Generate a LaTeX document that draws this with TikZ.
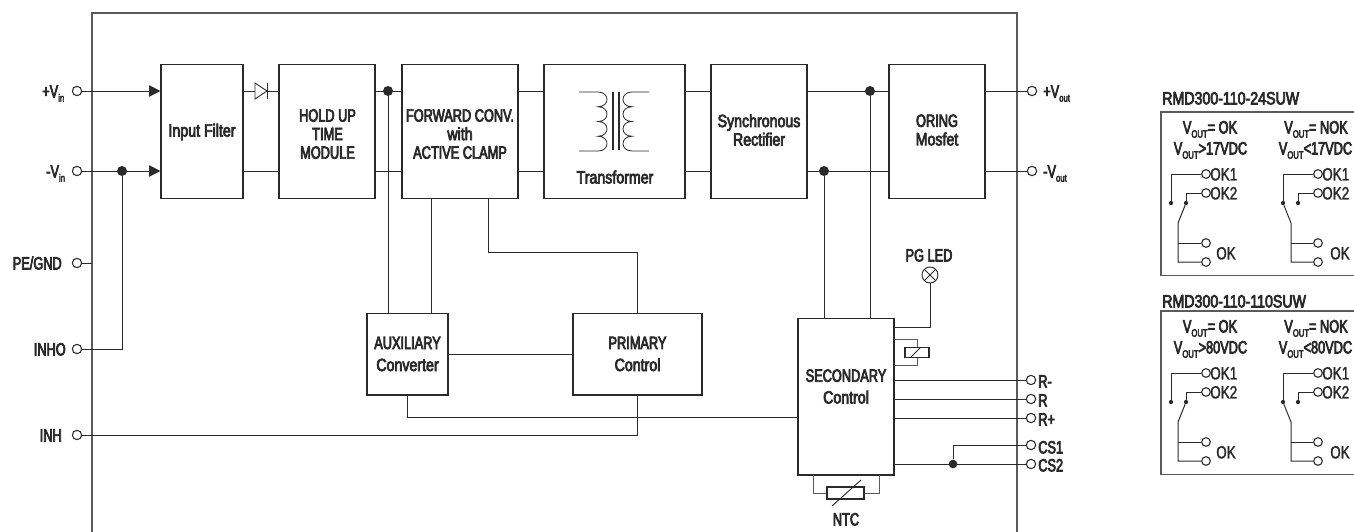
\documentclass[tikz,border=0pt]{standalone}
\usepackage{fontspec}
\setmainfont[FakeStretch=0.72,FakeBold=4]{Liberation Sans}
\newfontfamily\lc[FakeStretch=0.80,FakeBold=4]{Liberation Sans}
\newfontfamily\lightf[FakeStretch=0.76,FakeBold=1.5]{Liberation Sans}
\usetikzlibrary{arrows.meta,calc}
\definecolor{ink}{HTML}{2A2A2A}
\definecolor{frame}{HTML}{5A5A5A}
\newcommand{\lowsub}[1]{\raisebox{-3.2pt}{\fontsize{8}{8}\selectfont #1}}
\tikzset{
  wire/.style={draw=ink,line width=0.75pt},
  blockbox/.style={draw=ink,line width=0.85pt,fill=white,inner sep=0pt},
  thickbox/.style={blockbox,line width=1.15pt},
  lbl/.style={text=ink,align=center,inner sep=0pt,font=\fontsize{13.3}{13.9}\selectfont},
  tlbl/.style={lbl,text height=9.6pt,text depth=0pt},
  thinlbl/.style={tlbl,font=\lightf\fontsize{13.3}{13.9}\selectfont},
  term/.style={circle,draw=ink,line width=0.8pt,fill=white,minimum size=7pt,inner sep=0pt},
  jdot/.style={circle,fill=ink,minimum size=7.5pt,inner sep=0pt},
  sdot/.style={circle,fill=ink,minimum size=3.2pt,inner sep=0pt},
  entry/.style={wire,-{Triangle[length=8.5pt,width=8.5pt]}}
}
\newcommand{\blk}[6][blockbox]{\node[#1,minimum width={(#5-#3)*0.75pt},minimum height={(#6-#4)*0.75pt}] (#2) at ({(#3+#5)/2},{(#4+#6)/2}) {};}
\newcommand{\relaypanel}[5]{%
  \node[tlbl,anchor=west] (#1title) at (1162,#3) {\lc #4};
  \begin{scope}[shift={(0,#2)}]
    \coordinate (#1ca) at (1354,112); \coordinate (#1cb) at (1161,112);
    \coordinate (#1cc) at (1161,275.5); \coordinate (#1cd) at (1354,275.5);
    \draw[frame,line width=0.9pt] (#1ca) -- (#1cb) -- (#1cc) -- (#1cd);
    \node[tlbl] (#1h1) at (1210,127) {V\lowsub{OUT}= OK};
    \node[tlbl] (#1h2) at (1210.5,148) {V\lowsub{OUT}>#5VDC};
    \node[tlbl] (#1h3) at (1316,127) {V\lowsub{OUT}= NOK};
    \node[tlbl] (#1h4) at (1315.5,148) {V\lowsub{OUT}<#5VDC};
    % left contact group
    \node[term,minimum size=6.5pt] (#1a1) at (1206,174) {};
    \node[term,minimum size=6.5pt] (#1a2) at (1206,193) {};
    \node[term,minimum size=6.5pt] (#1a3) at (1206,243) {};
    \node[term,minimum size=6.5pt] (#1a4) at (1206,262) {};
    \node[sdot] (#1ad1) at (1171,203) {};
    \node[sdot] (#1ad2) at (1186,203) {};
    \coordinate (#1ah) at (1178,223);
    \node[thinlbl,anchor=west] (#1at1) at (1210,174) {OK1};
    \node[thinlbl,anchor=west] (#1at2) at (1210,193) {OK2};
    \node[thinlbl,anchor=west] (#1at3) at (1216,253) {OK};
    \draw[wire] (#1a1) -| (#1ad1);
    \draw[wire] (#1a2) -| (#1ad2);
    \draw[wire] (#1ad2) -- (#1ah) |- (#1a4);
    \draw[wire] (#1ah |- #1a3) -- (#1a3);
    % right contact group
    \node[term,minimum size=6.5pt] (#1b1) at (1318,174) {};
    \node[term,minimum size=6.5pt] (#1b2) at (1318,193) {};
    \node[term,minimum size=6.5pt] (#1b3) at (1318,243) {};
    \node[term,minimum size=6.5pt] (#1b4) at (1318,262) {};
    \node[sdot] (#1bd1) at (1283,203) {};
    \node[sdot] (#1bd2) at (1298,203) {};
    \coordinate (#1bh) at (1291,223);
    \node[thinlbl,anchor=west] (#1bt1) at (1322,174) {OK1};
    \node[thinlbl,anchor=west] (#1bt2) at (1322,193) {OK2};
    \node[thinlbl,anchor=west] (#1bt3) at (1330,253) {OK};
    \draw[wire] (#1b1) -| (#1bd1);
    \draw[wire] (#1b2) -| (#1bd2);
    \draw[wire] (#1bd1) -- (#1bh) |- (#1b4);
    \draw[wire] (#1bh |- #1b3) -- (#1b3);
  \end{scope}}
\begin{document}
\begin{tikzpicture}[x=0.75pt,y=-0.75pt]
\useasboundingbox (0,0) rectangle (1354,532);
% outer frame
\coordinate (fa) at (92,532); \coordinate (fb) at (92,13);
\coordinate (fc) at (1017,13); \coordinate (fd) at (1017,532);
\draw[frame,line width=1.1pt] (fa) -- (fb) -- (fc) -- (fd);
\coordinate (topy) at (0,91); \coordinate (boty) at (0,171);
% blocks
\blk{ifilt}{161}{64.5}{243}{198.5}
\blk{hold}{279}{64.5}{375}{198.5}
\blk{fwd}{402}{64.5}{518}{198.5}
\blk{xfm}{544}{64.5}{685}{198.5}
\blk{sync}{711}{64.5}{807}{198.5}
\blk{oring}{889}{64.5}{985}{198.5}
\blk{aux}{367}{313.5}{448}{395}
\blk[thickbox]{prim}{573}{313.5}{702}{395}
\blk[thickbox]{sec}{798}{318.5}{894}{475}
\node[lbl] (tifilt) at (202,132) {\lc Input Filter};
\node[lbl] (thold) at (327.5,134) {HOLD UP\\TIME\\MODULE};
\node[lbl] (tfwd) at (460,134) {FORWARD CONV.\\{\lc with}\\ACTIVE CLAMP};
\node[tlbl] (txfm) at (615,177) {\lc Transformer};
\node[lbl] (tsync) at (759,130) {\lc Synchronous\\\lc Rectifier};
\node[lbl] (toring) at (937,130) {ORING\\\lc Mosfet};
\node[lbl] (taux) at (407.5,354) {AUXILIARY\\[2.6pt]\lc Converter};
\node[lbl] (tprim) at (637.5,354) {PRIMARY\\[2.6pt]\lc Control};
\node[lbl] (tsec) at (846,386.5) {SECONDARY\\[2.4pt]\lc Control};
% input terminals
\node[term] (vip) at (77,91) {};
\node[term] (vin) at (77,171) {};
\node[term] (pe) at (77,263) {};
\node[term] (inho) at (77,349) {};
\node[term] (inh) at (77,435) {};
\node[tlbl,anchor=west] (tvip) at (42,91) {+V\lowsub{in}};
\node[tlbl,anchor=west] (tvin) at (46,171) {-V\lowsub{in}};
\node[tlbl,anchor=east] (tpe) at (62,263) {PE/GND};
\node[tlbl,anchor=east] (tinho) at (66,349) {INHO};
\node[tlbl,anchor=east] (tinh) at (62,435) {INH};
\node[jdot] (dvin) at (122,171) {};
\draw[entry] (vip) -- (vip -| ifilt.west);
\draw[entry] (vin) -- (vin -| ifilt.west);
\coordinate (pestub) at (92,263);
\draw[wire] (pe) -- (pestub);
\draw[wire] (inho) -| (dvin);
% diode
\coordinate (da) at (255,83); \coordinate (db) at (255,99); \coordinate (dc) at (267,91);
\coordinate (dd) at (267.5,83); \coordinate (de) at (267.5,99);
\draw[wire] (ifilt.east |- topy) -- (hold.west |- topy);
\draw[draw=ink,line width=0.7pt,fill=white] (da) -- (dc) -- (db) -- cycle;
\draw[wire] (dd) -- (de);
\draw[wire] (ifilt.east |- boty) -- (hold.west |- boty);
% main rails
\node[jdot] (dfwd) at (388,91) {};
\draw[wire] (hold.east |- topy) -- (fwd.west |- topy);
\draw[wire] (hold.east |- boty) -- (fwd.west |- boty);
\draw[wire] (fwd.east |- topy) -- (xfm.west |- topy);
\draw[wire] (fwd.east |- boty) -- (xfm.west |- boty);
\draw[wire] (xfm.east |- topy) -- (sync.west |- topy);
\draw[wire] (xfm.east |- boty) -- (sync.west |- boty);
\node[jdot] (dtop) at (870,91) {};
\node[jdot] (dbot) at (824,171) {};
\draw[wire] (sync.east |- topy) -- (oring.west |- topy);
\draw[wire] (sync.east |- boty) -- (oring.west |- boty);
\node[term] (vop) at (1032,91) {};
\node[term] (von) at (1032,171) {};
\draw[wire] (oring.east |- topy) -- (vop);
\draw[wire] (oring.east |- boty) -- (von);
\node[tlbl,anchor=west] (tvop) at (1043,91) {+V\lowsub{out}};
\node[tlbl,anchor=west] (tvon) at (1043,171) {-V\lowsub{out}};
% transformer symbol
\coordinate (cl1) at (579,92); \coordinate (cl2) at (598,92); \coordinate (cl3) at (598,151); \coordinate (cl4) at (579,151);
\draw[wire,line width=0.6pt] (cl1) -- (cl2)
  .. controls (610,92) and (610,106.75) .. (598,106.75)
  .. controls (610,106.75) and (610,121.5) .. (598,121.5)
  .. controls (610,121.5) and (610,136.25) .. (598,136.25)
  .. controls (610,136.25) and (610,151) .. (cl3) -- (cl4);
\coordinate (cr1) at (649,92); \coordinate (cr2) at (632,92); \coordinate (cr3) at (632,151); \coordinate (cr4) at (649,151);
\draw[wire,line width=0.6pt] (cr1) -- (cr2)
  .. controls (620,92) and (620,106.75) .. (632,106.75)
  .. controls (620,106.75) and (620,121.5) .. (632,121.5)
  .. controls (620,121.5) and (620,136.25) .. (632,136.25)
  .. controls (620,136.25) and (620,151) .. (cr3) -- (cr4);
\coordinate (ca1) at (613,92); \coordinate (ca2) at (613,150); \coordinate (cb1) at (619,92); \coordinate (cb2) at (619,150);
\draw[draw=ink,line width=1.6pt] (ca1) -- (ca2);
\draw[draw=ink,line width=1.6pt] (cb1) -- (cb2);
% lower connections
\coordinate (fwdb1) at (431,198.5); \coordinate (fwdb2) at (488,198.5);
\coordinate (primturn) at (488,252);
\coordinate (auxb2) at (431,313.5);
\draw[wire] (dfwd) -- (dfwd |- aux.north);
\draw[wire] (fwdb1) -- (auxb2);
\draw[wire] (fwdb2) -- (primturn) -| (prim.north);
\draw[wire] (aux.east) -- (prim.west);
\coordinate (secleft) at (798,417);
\draw[wire] (aux.south) |- (secleft);
\draw[wire] (prim.south) |- (inh);
\draw[wire] (dbot) -- (dbot |- sec.north);
\draw[wire] (dtop) -- (dtop |- sec.north);
% PG LED
\node[tlbl] (tled) at (929,255) {PG LED};
\node[circle,draw=ink,line width=0.7pt,fill=white,minimum size=12pt,inner sep=0pt,
  path picture={\draw[ink,line width=0.6pt] (path picture bounding box.north west) -- (path picture bounding box.south east);
  \draw[ink,line width=0.6pt] (path picture bounding box.north east) -- (path picture bounding box.south west);}] (led) at (930,275) {};
\coordinate (ledturn) at (930,327.5); \coordinate (ledsec) at (894,327.5);
\draw[wire] (led) -- (ledturn) -- (ledsec);
% relay symbol
\coordinate (ra) at (894,339); \coordinate (rb) at (917,339); \coordinate (rc) at (917,365); \coordinate (rd) at (894,365);
\draw[wire,frame] (ra) -- (rb) -- (rc) -- (rd);
\node[draw=ink,line width=0.8pt,fill=white,minimum width=18pt,minimum height=7pt,inner sep=0pt] (relay) at (917,352.5) {};
\coordinate (rs1) at (911,357); \coordinate (rs2) at (920,348);
\draw[ink,line width=0.7pt] (rs1) -- (rs2);
% right terminals
\node[term] (rm) at (1031,380) {};
\node[term] (rr) at (1031,399) {};
\node[term] (rp) at (1031,418) {};
\node[term] (cs1) at (1031,445) {};
\node[term] (cs2) at (1031,464) {};
\node[tlbl,anchor=west] (trm) at (1038,381) {R-};
\node[tlbl,anchor=west] (trr) at (1038,400) {R};
\node[tlbl,anchor=west] (trp) at (1038,419) {R+};
\node[tlbl,anchor=west] (tcs1) at (1038,447) {CS1};
\node[tlbl,anchor=west] (tcs2) at (1038,465) {CS2};
\draw[wire] (rm -| sec.east) -- (rm);
\draw[wire] (rr -| sec.east) -- (rr);
\draw[wire] (rp -| sec.east) -- (rp);
\node[jdot,minimum size=6.5pt] (dcs) at (953,464) {};
\draw[wire] (cs2 -| sec.east) -- (cs2);
\draw[wire] (dcs) |- (cs1);
% NTC
\coordinate (na) at (813,475); \coordinate (nb) at (813,493); \coordinate (nc) at (879,493); \coordinate (nd) at (879,475);
\draw[wire,frame] (na) -- (nb) -- (nc) -- (nd);
\node[draw=ink,line width=0.8pt,fill=white,minimum width=27.75pt,minimum height=9pt,inner sep=0pt] (ntc) at (845.5,493) {};
\coordinate (ns1) at (832,506); \coordinate (ns2) at (861,480);
\draw[ink,line width=0.7pt] (ns1) -- (ns2);
\node[tlbl] (tntc) at (846,519) {NTC};
% relay truth panels
\relaypanel{p}{0}{98}{RMD300-110-24SUW}{17}
\relaypanel{q}{199}{301}{RMD300-110-110SUW}{80}
\end{tikzpicture}
\end{document}
